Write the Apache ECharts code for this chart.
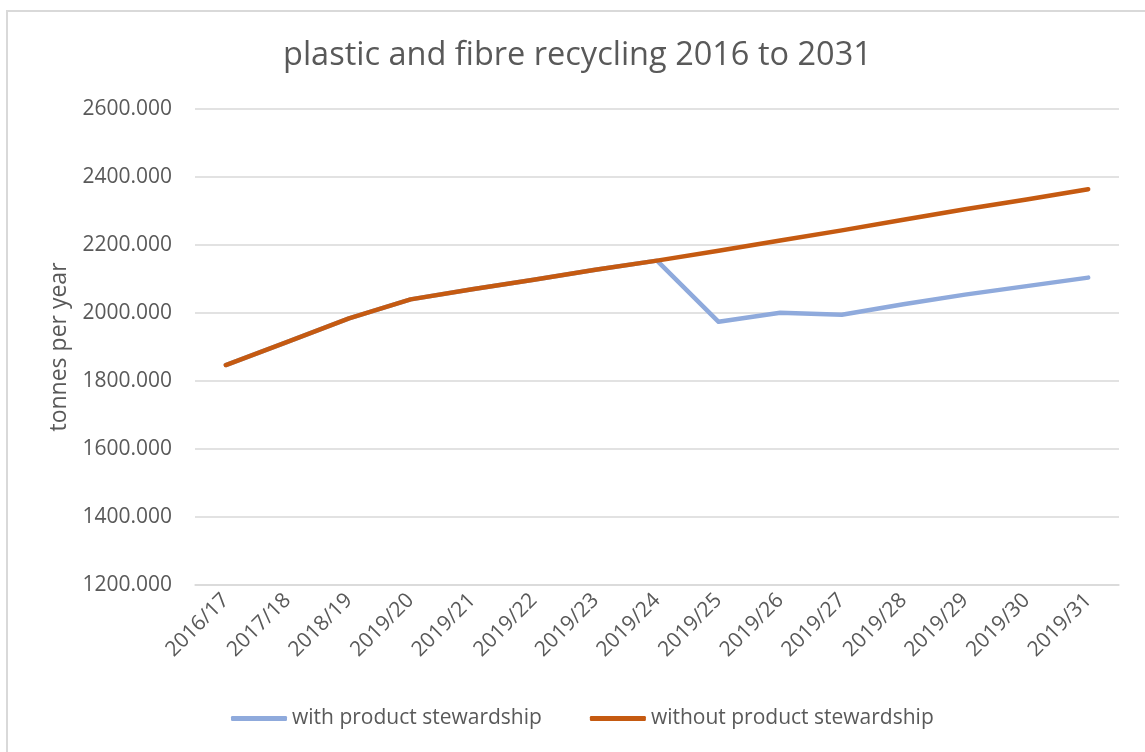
<!DOCTYPE html>
<html>
<head>
<meta charset="utf-8">
<title>plastic and fibre recycling 2016 to 2031</title>
<script src="https://cdn.jsdelivr.net/npm/echarts@6/dist/echarts.min.js"></script>
<style>
  html, body { margin: 0; padding: 0; background: #ffffff; }
  #chart { width: 1145px; height: 752px; }
</style>
</head>
<body>
<div id="chart"></div>
<script>
// Financial years on the category axis
const years = [
  '2016/17', '2017/18', '2018/19', '2019/20', '2019/21', '2019/22', '2019/23',
  '2019/24', '2019/25', '2019/26', '2019/27', '2019/28', '2019/29', '2019/30', '2019/31'
];

// Tonnes per year recycled, with a product stewardship scheme
const withStewardship = [
  1847, 1915, 1984, 2040, 2070, 2098, 2127,
  2154, 1974, 2001, 1995, 2026, 2054, 2079, 2104
];

// Tonnes per year recycled, business as usual
const withoutStewardship = [
  1847, 1915, 1984, 2040, 2070, 2098, 2127,
  2154, 2183, 2213, 2243, 2274, 2305, 2334, 2364
];

// Value axis range
const yMin = 1200;
const yMax = 2600;
const yStep = 200;

const textColor = '#595959';
const gridColor = '#d9d9d9';
const fontFamily = '"Open Sans", "Noto Sans", sans-serif';

const chart = echarts.init(document.getElementById('chart'), null, { renderer: 'canvas' });

chart.setOption({
  animation: false,
  backgroundColor: '#ffffff',
  textStyle: { fontFamily: fontFamily, color: textColor },
  graphic: [{
    type: 'rect',
    shape: { x: 7, y: 11, width: 1200, height: 800 },
    style: { fill: 'none', stroke: gridColor, lineWidth: 2 },
    silent: true,
    z: -10
  }],
  title: {
    text: 'plastic and fibre recycling 2016 to 2031',
    left: 283,
    top: 39,
    padding: 0,
    textStyle: {
      fontFamily: fontFamily,
      fontSize: 32.5,
      fontWeight: 'normal',
      color: textColor
    }
  },
  legend: {
    bottom: 18,
    left: 226,
    itemWidth: 56,
    itemHeight: 5,
    itemGap: 48,
    icon: 'roundRect',
    textStyle: { fontFamily: fontFamily, fontSize: 21, color: textColor },
    data: ['with product stewardship', 'without product stewardship']
  },
  grid: {
    left: 195,
    right: 26,
    top: 109,
    bottom: 167
  },
  xAxis: {
    type: 'category',
    data: years,
    boundaryGap: true,
    axisLine: { show: true, lineStyle: { color: gridColor, width: 1.5 } },
    axisTick: { show: false },
    axisLabel: {
      rotate: 45,
      interval: 0,
      margin: 12,
      fontSize: 21,
      fontFamily: fontFamily,
      color: textColor
    }
  },
  yAxis: {
    type: 'value',
    min: yMin,
    max: yMax,
    interval: yStep,
    name: 'tonnes per year',
    nameLocation: 'middle',
    nameGap: 124,
    nameRotate: 90,
    nameTextStyle: { fontFamily: fontFamily, fontSize: 23, color: textColor },
    axisLine: { show: false },
    axisTick: { show: false },
    axisLabel: {
      margin: 23,
      fontSize: 21,
      fontFamily: fontFamily,
      color: textColor,
      formatter: v => v.toFixed(3)
    },
    splitLine: { lineStyle: { color: gridColor, width: 1.5 } }
  },
  series: [
    {
      name: 'with product stewardship',
      type: 'line',
      data: withStewardship,
      symbol: 'none',
      color: '#8faadc',
      lineStyle: { width: 4.5, color: '#8faadc', cap: 'round', join: 'round' },
      z: 2
    },
    {
      name: 'without product stewardship',
      type: 'line',
      data: withoutStewardship,
      symbol: 'none',
      color: '#c55a11',
      lineStyle: { width: 4.5, color: '#c55a11', cap: 'round', join: 'round' },
      z: 3
    }
  ]
});
</script>
</body>
</html>
